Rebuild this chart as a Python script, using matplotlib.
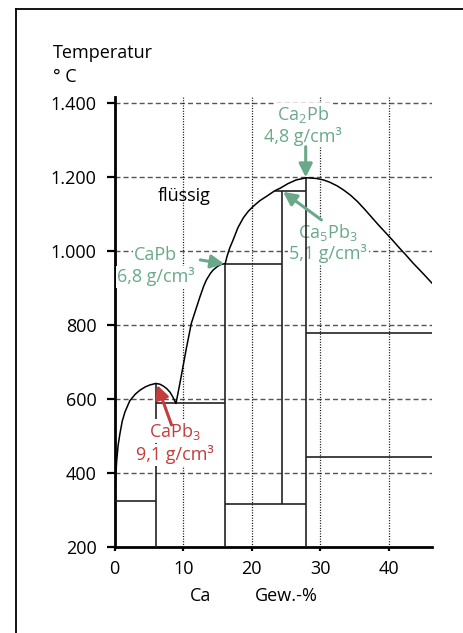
#!/usr/bin/env python3
import numpy as np
import matplotlib
matplotlib.use("Agg")
import matplotlib.pyplot as plt
from matplotlib.lines import Line2D

# liquidus curve (Ca wt-%, degC)
liq_x = [0, 0.04, 0.15, 0.3, 0.5, 0.77, 1.1, 1.5, 2.2, 3.0, 3.7, 4.5, 5.15,
         6.0, 6.6, 7.1, 7.6, 8.1, 8.5, 8.95,
         9.5, 10.5, 11.2, 12.45, 13.0, 13.4, 14.0, 14.4, 15.0, 15.4, 16.15,
         16.4, 16.8, 17.3, 18.0, 18.8, 19.5, 20.2, 21.2, 22.2, 23.4, 24.2,
         25.3, 26.5, 28.0, 29.5, 30.5, 31.4, 32.5, 33.5, 34.5, 35.5, 36.5,
         37.5, 38.5, 39.5, 40.5, 41.5, 42.5, 43.6, 45.0, 46.35]
liq_y = [325, 345, 390, 435, 475, 507, 540, 565, 595, 613, 624, 633, 638,
         642, 640, 635, 628, 618, 605, 588,
         640, 740, 805, 876, 905, 922, 940, 949, 958, 963, 966,
         985, 1008, 1030, 1063, 1090, 1107, 1120, 1136, 1148, 1163, 1170,
         1182, 1192, 1198, 1196, 1192, 1186, 1176, 1164, 1150, 1133, 1113,
         1092, 1071, 1051, 1031, 1010, 990, 967, 940, 913]

# horizontal phase boundaries
h_y = [325, 588, 966, 315, 1163, 778, 444]
h_x0 = [0, 6.0, 16.15, 16.15, 23.4, 27.9, 27.9]
h_x1 = [6.0, 16.15, 24.4, 27.9, 27.9, 46.35, 46.35]

# vertical lines of the compounds
v_x = [6.0, 16.15, 24.4, 27.9]
v_y0 = [200, 200, 315, 200]
v_y1 = [642, 966, 1163, 1198]

x_ticks = [0, 10, 20, 30, 40]
y_ticks = [200, 400, 600, 800, 1000, 1200, 1400]
y_labels = ["200", "400", "600", "800", "1.000", "1.200", "1.400"]

GREEN = "#69a98a"
RED = "#c23d3d"
FS = 13

plt.rcParams["font.family"] = ["Open Sans", "DejaVu Sans"]
plt.rcParams["mathtext.fontset"] = "custom"
plt.rcParams["mathtext.rm"] = "Open Sans"
plt.rcParams["mathtext.it"] = "Open Sans:italic"
plt.rcParams["mathtext.bf"] = "Open Sans:bold"


def main():
    W, H = 464, 633
    fig = plt.figure(figsize=(W / 100, H / 100), dpi=100)

    # axes placed to match pixel positions of the reference
    x0px, x1px, ybot, ytop = 114.7, 432, 547, 97
    ax = fig.add_axes([x0px / W, 1 - ybot / H, (x1px - x0px) / W, (ybot - ytop) / H])
    ax.set_xlim(0, 46.35)
    ax.set_ylim(200, 200 + (ybot - ytop) / 0.37)

    # grid
    for yv in y_ticks[1:]:
        ax.plot([0, 46.35], [yv, yv], color="#555555", lw=1.0,
                dashes=(3.6, 2.2), zorder=1)
    for xv in x_ticks[1:]:
        ax.plot([xv, xv], [200, 1416], color="black", lw=0.9,
                dashes=(0.8, 1.3), zorder=1)

    ax.hlines(h_y, h_x0, h_x1, color="#222222", lw=1.2, zorder=3)
    ax.vlines(v_x, v_y0, v_y1, color="#222222", lw=1.2, zorder=3)
    ax.plot(liq_x, liq_y, color="black", lw=1.1, zorder=4)

    ax.spines["top"].set_visible(False)
    ax.spines["right"].set_visible(False)
    ax.spines["left"].set_linewidth(2.0)
    ax.spines["bottom"].set_linewidth(2.0)
    ax.set_xticks(x_ticks)
    ax.set_yticks(y_ticks)
    ax.set_yticklabels(y_labels)
    ax.tick_params(axis="y", length=6, width=1.6, pad=7, labelsize=FS)
    ax.tick_params(axis="x", length=3, width=1.6, pad=6, labelsize=FS)

    box = dict(facecolor="white", edgecolor="none", pad=1)
    arrow = dict(arrowstyle="-|>", lw=2.2, mutation_scale=20, shrinkA=0, shrinkB=0)

    # annotations
    ax.text(6.3, 1149, "flüssig", fontsize=FS, ha="left", va="center", zorder=6)

    ax.text(27.5, 1368, "Ca$_\\mathrm{2}$Pb", color=GREEN, fontsize=FS,
            ha="center", va="center", bbox=box, zorder=6)
    ax.text(27.5, 1310, "4,8 g/cm³", color=GREEN, fontsize=FS,
            ha="center", va="center", bbox=box, zorder=6)
    ax.annotate("", xy=(27.9, 1199), xytext=(27.9, 1282),
                arrowprops=dict(arrow, color=GREEN), zorder=7)

    ax.text(6.0, 989, "CaPb", color=GREEN, fontsize=FS,
            ha="center", va="center", bbox=box, zorder=6)
    ax.text(6.0, 930, "6,8 g/cm³", color=GREEN, fontsize=FS,
            ha="center", va="center", bbox=box, zorder=6)
    ax.annotate("", xy=(16.0, 965), xytext=(12.5, 976),
                arrowprops=dict(arrow, color=GREEN), zorder=7)

    ax.text(31.2, 1051, "Ca$_\\mathrm{5}$Pb$_\\mathrm{3}$", color=GREEN, fontsize=FS,
            ha="center", va="center", bbox=box, zorder=2)
    ax.text(31.2, 992, "5,1 g/cm³", color=GREEN, fontsize=FS,
            ha="center", va="center", bbox=box, zorder=2)
    ax.annotate("", xy=(24.6, 1160), xytext=(30.2, 1084),
                arrowprops=dict(arrow, color=GREEN), zorder=7)

    ax.text(8.8, 513, "CaPb$_\\mathrm{3}$", color=RED, fontsize=FS,
            ha="center", va="center", bbox=box, zorder=6)
    ax.text(8.8, 449, "9,1 g/cm³", color=RED, fontsize=FS,
            ha="center", va="center", bbox=box, zorder=6)
    ax.annotate("", xy=(6.2, 638), xytext=(8.3, 530),
                arrowprops=dict(arrow, color=RED), zorder=7)

    # axis titles
    fig.text(53 / W, 1 - 58 / H, "Temperatur", fontsize=FS, ha="left", va="baseline")
    fig.text(53 / W, 1 - 82 / H, "° C", fontsize=FS, ha="left", va="baseline")
    fig.text(201 / W, 1 - 601 / H, "Ca", fontsize=FS, ha="center", va="baseline")
    fig.text(286.5 / W, 1 - 601 / H, "Gew.-%", fontsize=FS, ha="center", va="baseline")

    # outer frame (left and top edge only visible)
    fx, fy = 16 / W, 1 - 9 / H
    fig.add_artist(Line2D([fx, fx], [0, fy], color="black", lw=1.3))
    fig.add_artist(Line2D([fx, 1], [fy, fy], color="black", lw=1.3))

    fig.savefig("out.png", dpi=100)


if __name__ == '__main__':
    main()
